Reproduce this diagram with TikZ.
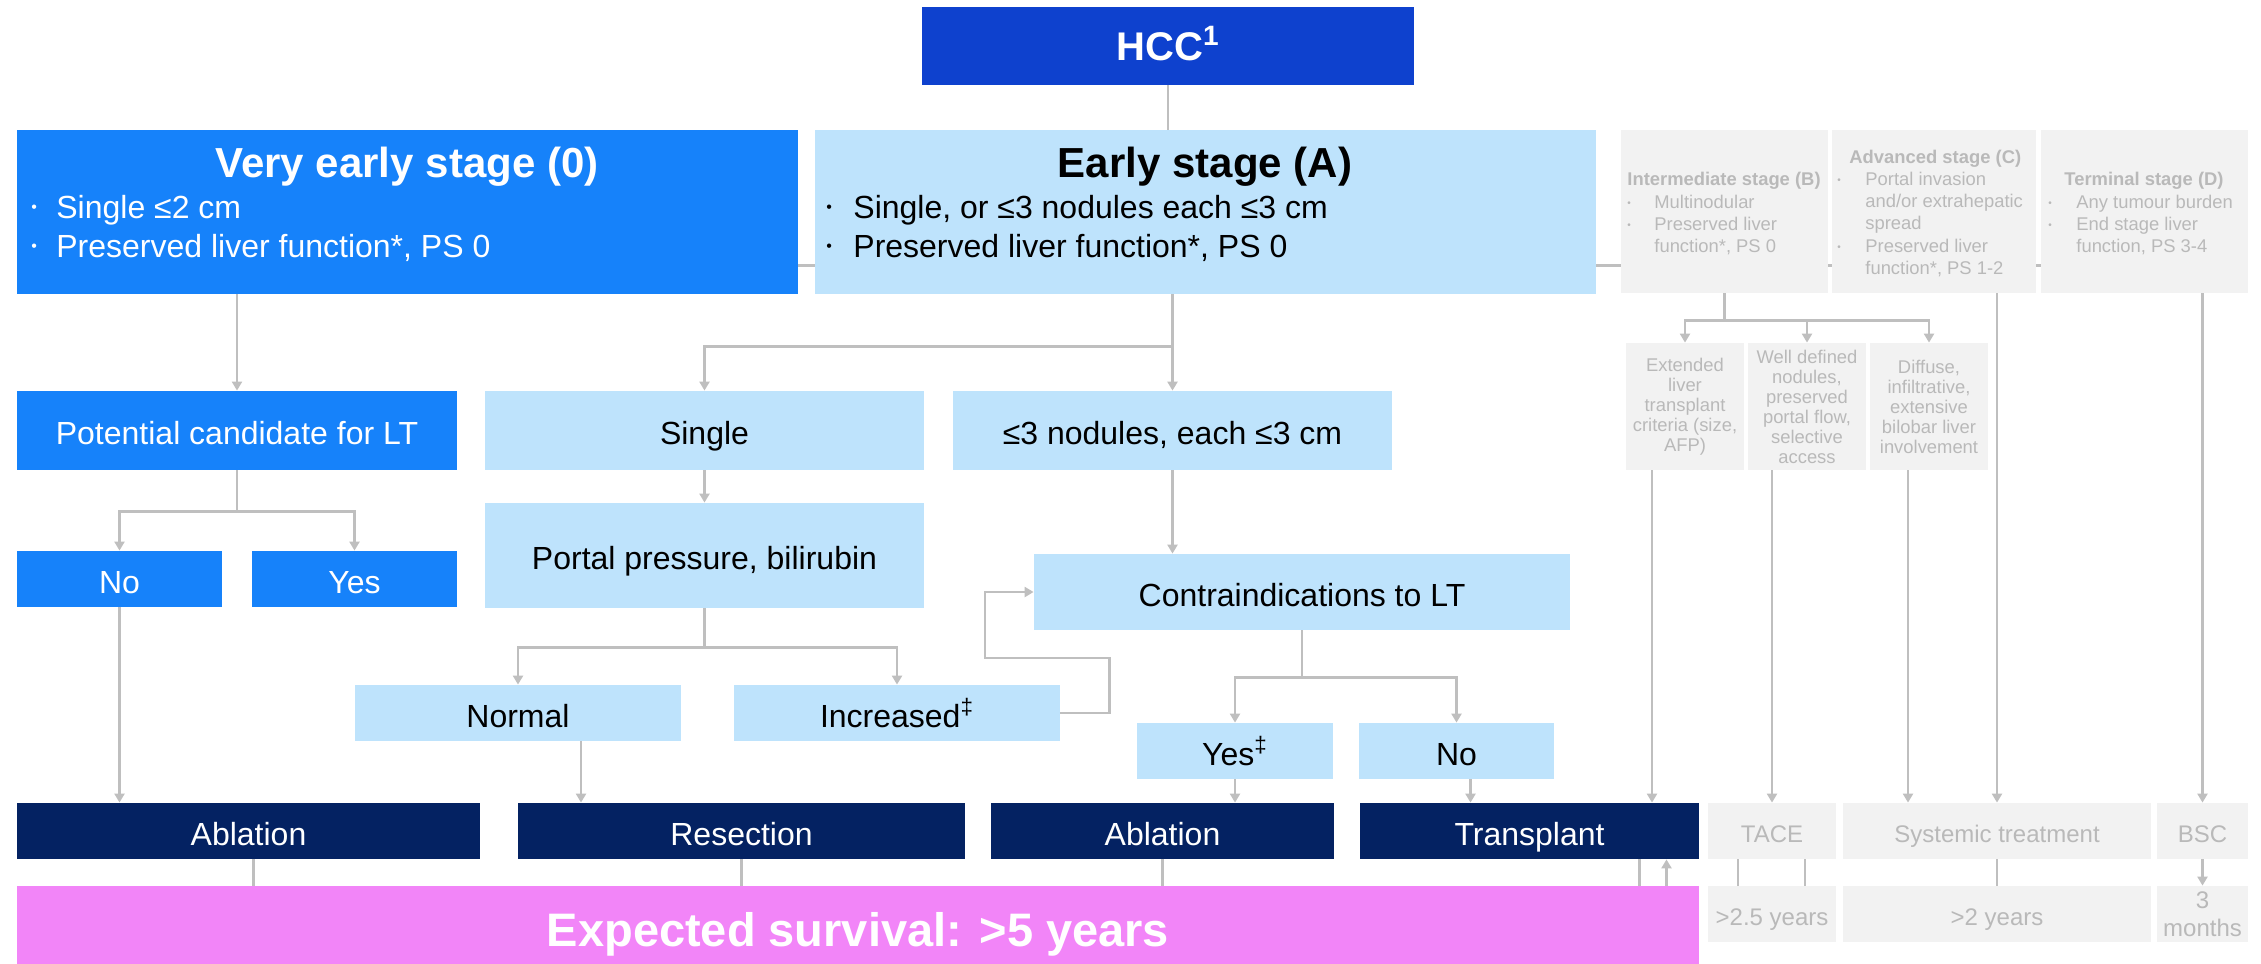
\documentclass[tikz,border=0pt]{standalone}
\usepackage{fontspec}
\setmainfont{Liberation Sans}
\usetikzlibrary{calc,arrows.meta,backgrounds}
\definecolor{hccblue}{RGB}{14,65,206}
\definecolor{vblue}{RGB}{22,130,250}
\definecolor{lblue}{RGB}{190,227,252}
\definecolor{navy}{RGB}{4,34,98}
\definecolor{pinkc}{RGB}{242,133,248}
\definecolor{gfill}{RGB}{242,242,242}
\definecolor{gtxt}{RGB}{185,185,185}
\definecolor{lgrey}{RGB}{191,191,191}
\newcommand\fs[2]{\fontsize{#1}{#2}\selectfont}
\newcommand\bx[7]{\node[#6, minimum width={(#4-#2)*0.5pt}, minimum height={(#5-#3)*0.5pt}] (#1) at ({(#2+#4)/2},{(#3+#5)/2}) {#7};}
\newcounter{tn}
\newcommand\tx[3][]{\stepcounter{tn}\node[anchor=base west, inner sep=0pt, #1] (tx\arabic{tn}) at (#2) {#3};}
\newcommand\bul{{\fs{8}{8}•}}
\newcommand\gbul{{\fs{5}{5}•}}
\tikzset{
  box/.style={inner sep=0pt, align=center},
  sl/.style={text height=14.4pt, text depth=0pt},
  hccbox/.style={box, fill=hccblue, text=white, font=\fs{20}{24}\bfseries, text height=14.4pt, text depth=0pt},
  vbox/.style={box, sl, fill=vblue, text=white, font=\fs{16}{19}},
  lbox/.style={box, sl, fill=lblue, text=black, font=\fs{16}{19}},
  nbox/.style={box, sl, fill=navy, text=white, font=\fs{16}{19}},
  pinkbox/.style={box, fill=pinkc, text=white, font=\fs{23.5}{28}\bfseries, text height=21pt, text depth=0pt},
  gbox/.style={box, fill=gfill, text=gtxt},
  gsmall/.style={font=\fs{9.2}{10}},
  gbig/.style={font=\fs{12}{14}},
  gsl/.style={text height=11pt, text depth=0pt},
  gt/.style={text=gtxt, font=\fs{9.2}{11}},
  ln/.style={draw=lgrey, line width=1.1pt},
  arr/.style={ln, -{Triangle[width=5pt,length=4.5pt]}},
}
\begin{document}
\begin{tikzpicture}[x=0.5pt, y=-0.5pt]
\useasboundingbox (0,0) rectangle (2261,964);
% boxes
\bx{hcc}{922}{7}{1414}{85}{hccbox}{HCC\textsuperscript{1}}
\bx{ve}{17}{130}{798}{294}{vbox}{}
\bx{ea}{815}{130}{1596}{294}{lbox}{}
\bx{int}{1621}{130}{1828}{293}{gbox}{}
\bx{adv}{1832}{130}{2036}{293}{gbox}{}
\bx{term}{2041}{130}{2248}{293}{gbox}{}
\bx{pc}{17}{391}{457}{470}{vbox}{Potential candidate for LT}
\bx{sg}{485}{391}{924}{470}{lbox}{Single}
\bx{n3}{953}{391}{1392}{470}{lbox}{≤3 nodules, each ≤3 cm}
\bx{ext}{1626}{343}{1744}{470}{gbox,gsmall}{Extended\\liver\\transplant\\criteria (size,\\AFP)}
\bx{wd}{1748}{343}{1866}{470}{gbox,gsmall}{Well defined\\nodules,\\preserved\\portal flow,\\selective\\access}
\bx{df}{1870}{343}{1988}{470}{gbox,gsmall}{Diffuse,\\infiltrative,\\extensive\\bilobar liver\\involvement}
\bx{no1}{17}{551}{222}{607}{vbox}{No}
\bx{yes1}{252}{551}{457}{607}{vbox}{Yes}
\bx{pp}{485}{503}{924}{608}{lbox}{Portal pressure, bilirubin}
\bx{ct}{1034}{554}{1570}{630}{lbox}{Contraindications to LT}
\bx{nm}{355}{685}{681}{741}{lbox}{Normal}
\bx{inc}{734}{685}{1060}{741}{lbox}{Increased\textsuperscript{‡}}
\bx{yes2}{1137}{723}{1333}{779}{lbox}{Yes\textsuperscript{‡}}
\bx{no2}{1359}{723}{1554}{779}{lbox}{No}
\bx{ab1}{17}{803}{480}{859}{nbox}{Ablation}
\bx{res}{518}{803}{965}{859}{nbox}{Resection}
\bx{ab2}{991}{803}{1334}{859}{nbox}{Ablation}
\bx{tp}{1360}{803}{1699}{859}{nbox}{Transplant}
\bx{tace}{1708}{803}{1836}{859}{gbox,gbig,gsl}{TACE}
\bx{sys}{1843}{803}{2151}{859}{gbox,gbig,gsl}{Systemic treatment}
\bx{bsc}{2157}{803}{2248}{859}{gbox,gbig,gsl}{BSC}
\bx{surv}{17}{886}{1699}{964}{pinkbox}{Expected survival: >5 years}
\bx{s25}{1708}{886}{1836}{942}{gbox,gbig,gsl}{>2.5 years}
\bx{s2}{1843}{886}{2151}{942}{gbox,gbig,gsl}{>2 years}
\bx{s3}{2157}{886}{2248}{942}{gbox,gbig}{3\\months}
% stage texts
\node[anchor=base, inner sep=0pt, text=white, font=\fs{21}{25}\bfseries] (vet) at (407,177) {Very early stage (0)};
\tx[text=white]{31,212}{\bul}
\tx[text=white, font=\fs{16}{19}]{56,218}{Single ≤2 cm}
\tx[text=white]{31,251}{\bul}
\tx[text=white, font=\fs{16}{19}]{56,257}{Preserved liver function*, PS 0}
\node[anchor=base, inner sep=0pt, text=black, font=\fs{21}{25}\bfseries] (eat) at (1205,177) {Early stage (A)};
\tx[text=black]{826,212}{\bul}
\tx[text=black, font=\fs{16}{19}]{853,218}{Single, or ≤3 nodules each ≤3 cm}
\tx[text=black]{826,251}{\bul}
\tx[text=black, font=\fs{16}{19}]{853,257}{Preserved liver function*, PS 0}
% intermediate
\tx[gt, font=\fs{9.2}{11}\bfseries]{1627,185}{Intermediate stage (B)}
\tx[gt]{1627,206}{\gbul}
\tx[gt]{1654,208}{Multinodular}
\tx[gt]{1627,228}{\gbul}
\tx[gt]{1654,230}{Preserved liver}
\tx[gt]{1654,252}{function*, PS 0}
% advanced
\tx[gt, font=\fs{9.2}{11}\bfseries]{1849,163}{Advanced stage (C)}
\tx[gt]{1837,183}{\gbul}
\tx[gt]{1865,185}{Portal invasion}
\tx[gt]{1865,207}{and/or extrahepatic}
\tx[gt]{1865,229}{spread}
\tx[gt]{1837,250}{\gbul}
\tx[gt]{1865,252}{Preserved liver}
\tx[gt]{1865,274}{function*, PS 1-2}
% terminal
\tx[gt, font=\fs{9.2}{11}\bfseries]{2064,185}{Terminal stage (D)}
\tx[gt]{2048,206}{\gbul}
\tx[gt]{2076,208}{Any tumour burden}
\tx[gt]{2048,228}{\gbul}
\tx[gt]{2076,230}{End stage liver}
\tx[gt]{2076,252}{function, PS 3-4}
% connectors
\begin{scope}[on background layer]
\draw[ln] ($(ve.south east)+(0,-29)$) -- ($(term.south west)+(0,-28)$);
\end{scope}
\draw[ln] (hcc.south) -- (hcc.south |- ea.north);
\draw[arr] (ve.south -| pc) -- (pc.north);
\coordinate (j1) at ($(ea.south -| n3)+(0,52)$);
\draw[ln] (ea.south -| n3) -- (j1);
\draw[arr] (j1) -- (n3.north);
\draw[arr] (j1) -| (sg.north);
\coordinate (j2) at ($(pc.south)+(0,41)$);
\draw[ln] (pc.south) -- (j2);
\draw[arr] (j2) -| (no1.north);
\draw[arr] (j2) -| (yes1.north);
\draw[arr] (sg.south) -- (pp.north);
\coordinate (j3) at ($(pp.south)+(0,39)$);
\draw[ln] (pp.south) -- (j3);
\draw[arr] (j3) -| (nm.north);
\draw[arr] (j3) -| (inc.north);
\draw[arr] (inc.east) -| ($(inc.east)+(49,-55)$) -| ($(ct.west)+(-49,0)$) -- (ct.west);
\draw[arr] (n3.south) -- (n3.south |- ct.north);
\coordinate (j4) at ($(ct.south)+(0,47)$);
\draw[ln] (ct.south) -- (j4);
\draw[arr] (j4) -| (yes2.north);
\draw[arr] (j4) -| (no2.north);
\draw[arr] (yes2.south) -- (yes2.south |- ab2.north);
\draw[arr] ($(no2.south)+(14,0)$) -- ($(no2.south |- tp.north)+(14,0)$);
\draw[arr] (no1.south) -- (no1.south |- ab1.north);
\draw[arr] ($(nm.south)+(63,0)$) -- ($(nm.south |- res.north)+(63,0)$);
\draw[ln] ($(ab1.south)+(5,0)$) -- ($(ab1.south |- surv.north)+(5,0)$);
\draw[ln] (res.south) -- (res.south |- surv.north);
\draw[ln] (ab2.south) -- (ab2.south |- surv.north);
\draw[ln] ($(tp.south)+(110,0)$) -- ($(tp.south |- surv.north)+(110,0)$);
\draw[arr] ($(tp.south |- surv.north)+(137,0)$) -- ($(tp.south)+(137,0)$);
% grey branch
\coordinate (j5) at ($(int.south)+(0,27)$);
\draw[ln] (int.south) -- (j5);
\draw[arr] (j5) -| (ext.north);
\draw[arr] (j5) -| (wd.north);
\draw[arr] (j5) -| (df.north);
\draw[arr] ($(ext.south)+(-33,0)$) -- ($(ext.south |- tp.north)+(-33,0)$);
\draw[arr] (wd.south -| tace) -- (tace.north);
\draw[arr] ($(df.south)+(-21,0)$) -- ($(df.south |- sys.north)+(-21,0)$);
\draw[arr] (adv.south -| sys) -- (sys.north);
\draw[arr] (term.south -| bsc) -- (bsc.north);
\draw[ln] ($(tace.south)+(-34,0)$) -- ($(tace.south |- s25.north)+(-34,0)$);
\draw[ln] ($(tace.south)+(33,0)$) -- ($(tace.south |- s25.north)+(33,0)$);
\draw[ln] (sys.south) -- (s2.north);
\draw[arr] (bsc.south) -- (s3.north);
\end{tikzpicture}
\end{document}
